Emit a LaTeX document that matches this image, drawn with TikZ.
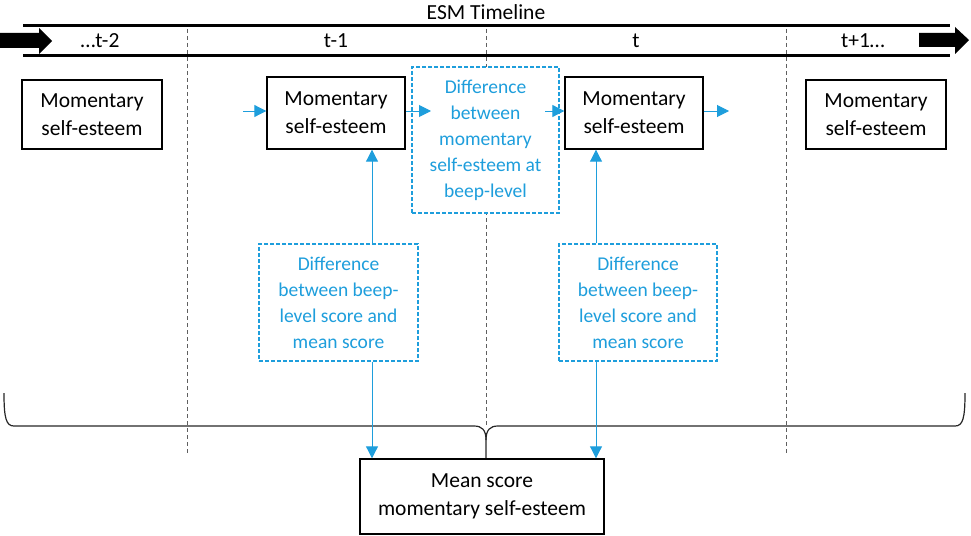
\documentclass[tikz,border=0pt]{standalone}
\usepackage{fontspec}
\setmainfont{Carlito}
\usetikzlibrary{arrows.meta}
\definecolor{cblue}{RGB}{30,158,220}
\definecolor{cgray}{RGB}{95,95,95}
\begin{document}
\begin{tikzpicture}[x=1pt,y=-1pt,
  bigtxt/.style={font=\fontsize{21.5}{28}\selectfont},
  bluetxt/.style={font=\fontsize{19.5}{26}\selectfont, text=cblue},
  solidbox/.style={draw=black, line width=1.4pt, fill=white, inner sep=0pt, align=center, bigtxt},
  dashbox/.style={draw=cblue, line width=1.4pt, dash pattern=on 4pt off 2pt, fill=white, inner sep=0pt, align=center, bluetxt},
  barrow/.style={draw=cblue, line width=1pt, -{Triangle[length=12pt,width=12pt]}},
  vdash/.style={draw=cgray, line width=1pt, dash pattern=on 4pt off 3pt},
  tline/.style={draw=black, line width=3pt},
  blockarrow/.style={fill=black},
  lbl/.style={bigtxt, inner sep=0pt},
  bracestyle/.style={draw=black!85, line width=1.2pt}
]
\useasboundingbox (0,0) rectangle (971,535);

% title
\node[lbl] (title) at (486,12) {ESM Timeline};

% timeline band
\coordinate (tla) at (23,26);
\coordinate (tlb) at (950,26);
\coordinate (tlc) at (23,56);
\coordinate (tld) at (950,56);
\draw[tline] (tla) -- (tlb);
\draw[tline] (tlc) -- (tld);
\fill[blockarrow] (0,33) -- (39,33) -- (39,28) -- (52,41) -- (39,54) -- (39,48) -- (0,48) -- cycle;
\fill[blockarrow] (919,33) -- (955,33) -- (955,27) -- (969,40) -- (955,54) -- (955,47) -- (919,47) -- cycle;

% vertical dashed separators
\coordinate (v1t) at (187,29);
\coordinate (v1b) at (187,453);
\coordinate (v2t) at (486,29);
\coordinate (v2b) at (486,425);
\coordinate (v3t) at (786,29);
\coordinate (v3b) at (786,453);
\draw[vdash] (v1t) -- (v1b);
\draw[vdash] (v2t) -- (v2b);
\draw[vdash] (v3t) -- (v3b);

% timeline labels
\node[lbl] (lt2) at (100,41) {…t-2};
\node[lbl] (lt1) at (336,41) {t-1};
\node[lbl] (lt0) at (636,41) {t};
\node[lbl] (ltp) at (863,41) {t+1…};

% black boxes
\node[solidbox, minimum width=140pt, minimum height=69pt] (A) at (92,114.5) {Momentary\\self-esteem};
\node[solidbox, minimum width=138pt, minimum height=72pt] (B) at (336,113) {Momentary\\self-esteem};
\node[solidbox, minimum width=138pt, minimum height=72pt] (C) at (634,113) {Momentary\\self-esteem};
\node[solidbox, minimum width=140pt, minimum height=69pt] (D) at (876,114.5) {Momentary\\self-esteem};

% dashed blue boxes
\node[dashbox, minimum width=147pt, minimum height=146pt] (mid) at (485.5,140) {Difference\\between\\momentary\\self-esteem at\\beep-level};
\node[dashbox, minimum width=159pt, minimum height=117pt] (low1) at (338.5,302.5) {Difference\\between beep-\\level score and\\mean score};
\node[dashbox, minimum width=158pt, minimum height=117pt] (low2) at (638,302.5) {Difference\\between beep-\\level score and\\mean score};

% brace
\draw[bracestyle] (4,393) .. controls (4,418) and (6,426) .. (14,426) -- (474,426)
  .. controls (482,426) and (486,430) .. (486,440) -- (486,459);
\draw[bracestyle] (965,393) .. controls (965,418) and (963,426) .. (955,426) -- (498,426)
  .. controls (490,426) and (486,430) .. (486,440);

% mean box
\node[solidbox, minimum width=244pt, minimum height=75pt] (mean) at (482,496.5) {Mean score\\momentary self-esteem};

% blue arrows
\coordinate (hy) at (0,111);
\coordinate (h0) at (243,111);
\coordinate (h1) at (431,111);
\coordinate (h2) at (545,111);
\coordinate (h3) at (729,111);
\coordinate (ax1) at (372,0);
\coordinate (ax2) at (596,0);
\draw[barrow] (h0) -- (B.west |- hy);
\draw[barrow] (B.east |- hy) -- (h1);
\draw[barrow] (h2) -- (C.west |- hy);
\draw[barrow] (C.east |- hy) -- (h3);
\draw[barrow] (low1.north -| ax1) -- (B.south -| ax1);
\draw[barrow] (low2.north -| ax2) -- (C.south -| ax2);
\draw[barrow] (low1.south -| ax1) -- (mean.north -| ax1);
\draw[barrow] (low2.south -| ax2) -- (mean.north -| ax2);
\end{tikzpicture}
\end{document}
